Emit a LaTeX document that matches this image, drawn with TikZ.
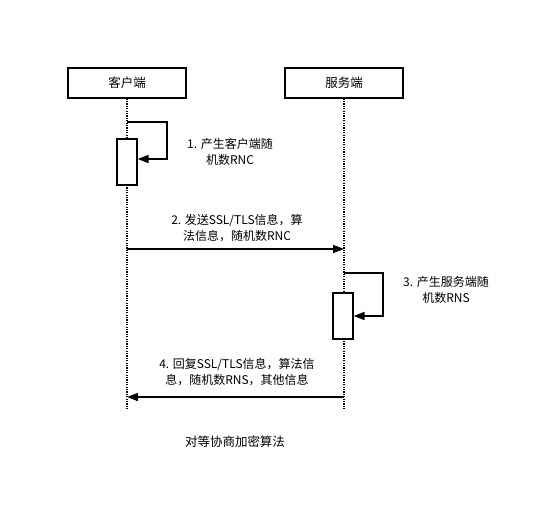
\documentclass[tikz,border=0pt]{standalone}
\usepackage{fontspec}
\setmainfont{Noto Sans CJK SC}
\usetikzlibrary{arrows.meta}

\tikzset{
	party/.style={draw, line width=1.2pt, minimum width=118pt, minimum height=30pt, inner sep=0pt},
	activ/.style={draw, line width=1.2pt, fill=white, minimum width=20pt, minimum height=46pt, inner sep=0pt},
	lifeline/.style={line width=1.2pt, dash pattern=on 1.2pt off 1.2pt},
	msg/.style={line width=1.6pt, -{Triangle[length=11pt, width=8pt]}},
	note/.style={align=center, font=\fontsize{12}{16}\selectfont, inner sep=0pt}
}

\begin{document}
\begin{tikzpicture}[x=1pt, y=-1pt]

\useasboundingbox (0, 0) rectangle (550, 520);

% parties and their lifelines
\node[party, font=\fontsize{12.5}{14}\selectfont] (client) at (127, 83) {客户端};
\node[party, font=\fontsize{12.5}{14}\selectfont] (server) at (344, 83) {服务端};
\coordinate (clientend) at (127, 410);
\coordinate (serverend) at (344, 410);
\draw[lifeline] (client.south) -- (clientend);
\draw[lifeline] (server.south) -- (serverend);

% step 1
\node[activ] (actc) at (127, 162) {};
\coordinate (loopc) at (127, 122);
\draw[line width=1.6pt, -{Triangle[length=11pt, width=8pt]}]
	(loopc) -- (167, 122) -- (167, 159) -- (actc.east |- 0, 159);
\node[note] (stepa) at (230, 152) {1. 产生客户端随\\机数RNC};

% step 2
\coordinate (msgas) at (127, 249);
\coordinate (msgae) at (344, 249);
\draw[msg] (msgas) -- (msgae);
\node[note] (stepb) at (237, 228) {2. 发送SSL/TLS信息，算\\法信息，随机数RNC};

% step 3
\node[activ] (acts) at (343, 316) {};
\coordinate (loops) at (344, 273);
\draw[line width=1.6pt, -{Triangle[length=11pt, width=8pt]}]
	(loops) -- (383, 273) -- (383, 316) -- (acts.east |- 0, 316);
\node[note] (stepc) at (446, 290) {3. 产生服务端随\\机数RNS};

% step 4
\coordinate (msgbs) at (344, 397);
\coordinate (msgbe) at (127, 397);
\draw[msg] (msgbs) -- (msgbe);
\node[note] (stepd) at (237, 372) {4. 回复SSL/TLS信息，算法信\\息，随机数RNS，其他信息};

\node[font=\fontsize{12.5}{14}\selectfont] (caption) at (235, 442) {对等协商加密算法};

\end{tikzpicture}
\end{document}
